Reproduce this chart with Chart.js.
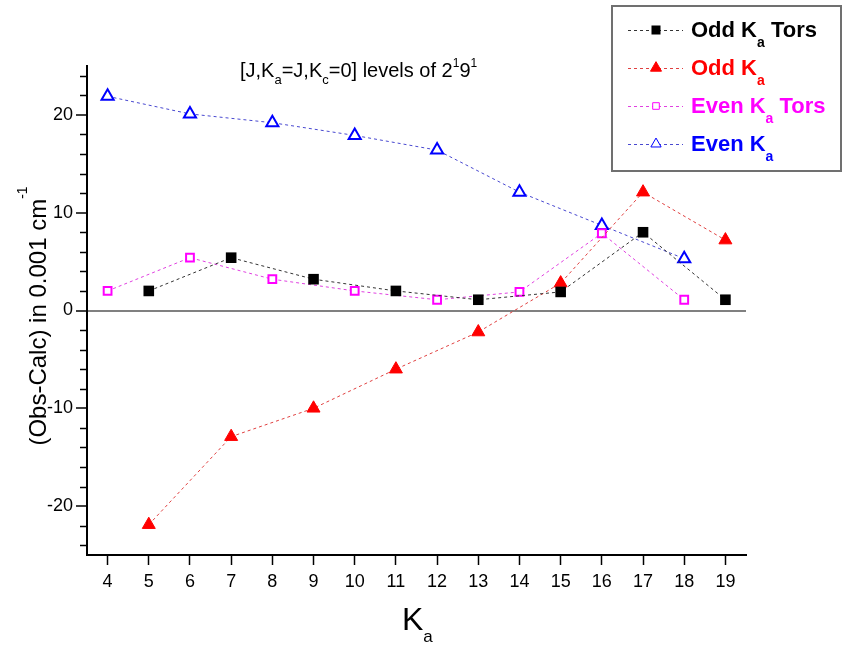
<!DOCTYPE html>
<html>
<head>
<meta charset="utf-8">
<script src="https://cdn.jsdelivr.net/npm/chart.js@4.4.1/dist/chart.umd.min.js"></script>
<style>
  html, body { margin: 0; padding: 0; background: #fff; }
  #wrap { width: 843px; height: 645px; position: relative; }
</style>
</head>
<body>
<div id="wrap"><canvas id="mycanvas"></canvas></div>
<script>
// K_a values on the x axis
var oddKa  = [5, 7, 9, 11, 13, 15, 17, 19];
var evenKa = [4, 6, 8, 10, 12, 14, 16, 18];

// (Obs-Calc) in 0.001 cm-1
var oddKaTors  = [2.0, 5.4, 3.2, 2.0, 1.1, 1.9, 8.0, 1.1];
var oddKaVals  = [-21.9, -12.9, -10.0, -6.0, -2.2, 2.8, 12.1, 7.2];
var evenKaTors = [2.0, 5.4, 3.2, 2.0, 1.1, 1.9, 7.9, 1.1];
var evenKaVals = [21.9, 20.1, 19.2, 17.9, 16.4, 12.1, 8.7, 5.3];

var xTicks = [4, 5, 6, 7, 8, 9, 10, 11, 12, 13, 14, 15, 16, 17, 18, 19];
var yTicks = [-20, -10, 0, 10, 20];
var yMinor = [-24, -22, -18, -16, -14, -12, -8, -6, -4, -2, 2, 4, 6, 8, 12, 14, 16, 18, 22, 24];

// legend names: [before subscript, subscript, after]
var names = [['Odd K', 'a', ' Tors'], ['Odd K', 'a', ''], ['Even K', 'a', ' Tors'], ['Even K', 'a', '']];
var textColors = ['#000000', '#ff0000', '#ff00ff', '#0000ff'];

var FONT = '"Liberation Sans", Arial, sans-serif';

function pts(xs, ys) {
  return xs.map(function(x, i) { return {x: x, y: ys[i]}; });
}

// draws text pieces one after another, each [text, size, dy]
function drawRich(ctx, x, y, segs, color, weight) {
  ctx.fillStyle = color;
  ctx.textAlign = 'left';
  ctx.textBaseline = 'alphabetic';
  for (var i = 0; i < segs.length; i++) {
    ctx.font = (weight || 'normal') + ' ' + segs[i][1] + 'px ' + FONT;
    ctx.fillText(segs[i][0], x, y + segs[i][2]);
    x += ctx.measureText(segs[i][0]).width;
  }
  return x;
}
function richWidth(ctx, segs, weight) {
  var w = 0;
  for (var i = 0; i < segs.length; i++) {
    ctx.font = (weight || 'normal') + ' ' + segs[i][1] + 'px ' + FONT;
    w += ctx.measureText(segs[i][0]).width;
  }
  return w;
}

var extras = {
  id: 'extras',
  afterDraw: function(chart) {
    var ctx = chart.ctx;
    var area = chart.chartArea;
    var ys = chart.scales.y;

    // minor ticks on y
    ctx.save();
    ctx.strokeStyle = '#000';
    ctx.lineWidth = 1.5;
    yMinor.forEach(function(v) {
      var py = Math.round(ys.getPixelForValue(v)) + 0.5;
      ctx.beginPath();
      ctx.moveTo(area.left - 7, py);
      ctx.lineTo(area.left, py);
      ctx.stroke();
    });
    ctx.restore();

    // title
    ctx.save();
    drawRich(ctx, 240, 77, [['[J,K', 20, 0], ['a', 13, 7], ['=J,K', 20, 0], ['c', 13, 7],
      ['=0] levels of 2', 20, 0], ['1', 12, -10], ['9', 20, 0], ['1', 12, -10]], '#000');

    // x axis title
    drawRich(ctx, 402, 630, [['K', 32, 0], ['a', 17, 12]], '#000');

    // y axis title
    var ySegs = [['(Obs-Calc) in 0.001 cm', 24, 0], ['-1', 14, -19]];
    var w = richWidth(ctx, ySegs);
    ctx.translate(46, 316);
    ctx.rotate(-Math.PI / 2);
    drawRich(ctx, -w / 2, 0, ySegs, '#000');
    ctx.restore();

    // legend box
    ctx.save();
    ctx.fillStyle = '#fff';
    ctx.fillRect(611, 5, 231, 167);
    ctx.strokeStyle = '#707070';
    ctx.lineWidth = 2;
    ctx.strokeRect(612, 6, 229, 165);
    chart.data.datasets.forEach(function(ds, i) {
      var base = 37 + i * 38;
      var my = base - 7;
      ctx.strokeStyle = ds.borderColor;
      ctx.lineWidth = 1;
      ctx.setLineDash([3, 3]);
      ctx.beginPath();
      ctx.moveTo(628, my + 0.5);
      ctx.lineTo(683, my + 0.5);
      ctx.stroke();
      ctx.setLineDash([]);
      ctx.fillStyle = ds.pointBackgroundColor;
      ctx.strokeStyle = ds.pointBorderColor;
      Chart.helpers.drawPoint(ctx, {
        pointStyle: ds.pointStyle,
        radius: ds.pointRadius * 0.85,
        rotation: 0,
        borderWidth: ds.pointBorderWidth
      }, 656, my);
      var n = names[i];
      drawRich(ctx, 691, base, [[n[0], 22, 0], [n[1], 14, 10], [n[2], 22, 0]], textColors[i], 'bold');
    });
    ctx.restore();
  }
};

var ctx = document.getElementById('mycanvas');

var chart = new Chart(ctx, {
  type: 'line',
  data: {
    datasets: [
      {
        label: 'Odd Ka Tors',
        data: pts(oddKa, oddKaTors),
        borderColor: '#333333',
        borderWidth: 1,
        borderDash: [3, 3],
        pointStyle: 'rect',
        pointRadius: 7.5,
        pointBackgroundColor: '#000000',
        pointBorderColor: '#000000',
        pointBorderWidth: 0
      },
      {
        label: 'Odd Ka',
        data: pts(oddKa, oddKaVals),
        borderColor: '#e04040',
        borderWidth: 1,
        borderDash: [3, 3],
        pointStyle: 'triangle',
        pointRadius: 7.5,
        pointBackgroundColor: '#ff0000',
        pointBorderColor: '#ff0000',
        pointBorderWidth: 1
      },
      {
        label: 'Even Ka Tors',
        data: pts(evenKa, evenKaTors),
        borderColor: '#e040e0',
        borderWidth: 1,
        borderDash: [3, 3],
        pointStyle: 'rect',
        pointRadius: 5.5,
        pointBackgroundColor: '#ffffff',
        pointBorderColor: '#ff00ff',
        pointBorderWidth: 2
      },
      {
        label: 'Even Ka',
        data: pts(evenKa, evenKaVals),
        borderColor: '#4848d0',
        borderWidth: 1,
        borderDash: [3, 3],
        pointStyle: 'triangle',
        pointRadius: 7,
        pointBackgroundColor: '#ffffff',
        pointBorderColor: '#0000ff',
        pointBorderWidth: 2
      }
    ]
  },
  options: {
    responsive: true,
    maintainAspectRatio: false,
    animation: false,
    layout: { padding: { top: 66, right: 97, left: 0, bottom: 0 } },
    plugins: {
      legend: { display: false },
      title: { display: false },
      tooltip: { enabled: false }
    },
    scales: {
      x: {
        type: 'linear',
        min: 3.5,
        max: 19.5,
        afterBuildTicks: function(s) { s.ticks = xTicks.map(function(v) { return {value: v}; }); },
        afterFit: function(s) { s.height = 90; },
        grid: { drawOnChartArea: false, tickLength: 10, tickColor: '#000', tickWidth: 1.5 },
        border: { color: '#000', width: 2 },
        ticks: { color: '#000', font: { family: FONT, size: 18 }, padding: 6, maxRotation: 0, autoSkip: false }
      },
      y: {
        min: -25,
        max: 25,
        afterBuildTicks: function(s) { s.ticks = yTicks.map(function(v) { return {value: v}; }); },
        afterFit: function(s) { s.width = 87; },
        grid: {
          drawOnChartArea: true,
          color: function(c) { return c.tick && c.tick.value === 0 ? '#808080' : 'rgba(0,0,0,0)'; },
          lineWidth: 2,
          tickLength: 11,
          tickColor: '#000',
          tickWidth: 1.5
        },
        border: { color: '#000', width: 2 },
        ticks: { color: '#000', font: { family: FONT, size: 18 }, padding: 3 }
      }
    }
  },
  plugins: [extras]
});
</script>
</body>
</html>
